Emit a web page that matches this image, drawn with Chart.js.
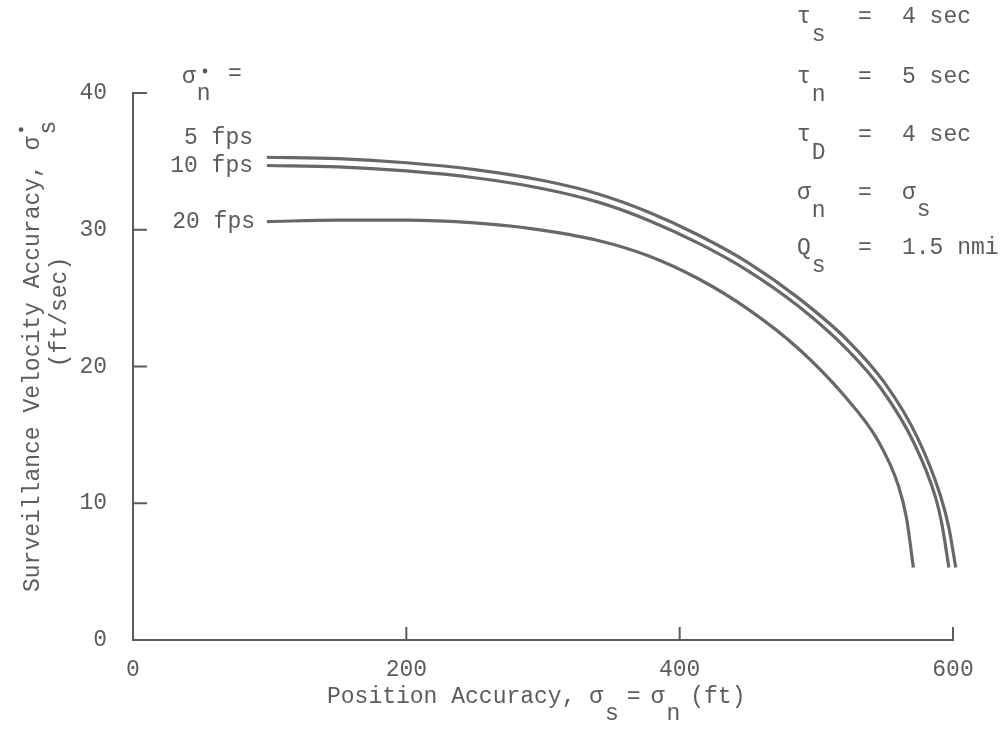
<!DOCTYPE html>
<html lang="en">
<head>
    <meta charset="UTF-8">
    <title>Surveillance Velocity Accuracy</title>
    <style>
      body { margin: 0; background: #fff; }
    </style>
</head>
<body>
    <canvas id="grafico1" width="1008" height="730"></canvas>
    <script src="https://cdn.jsdelivr.net/npm/chart.js"></script>
    <script>
      // position accuracy (ft) vs velocity accuracy (ft/sec), one curve per sigma-dot-n
      const pos5 = [98, 150, 200, 250, 300, 341, 377, 414, 450, 487, 523, 550, 574, 591, 597, 602];
      const vel5 = [35.3, 35.2, 34.9, 34.4, 33.6, 32.6, 31.3, 29.6, 27.6, 25.0, 21.9, 18.8, 14.8, 10.5, 8.2, 5.3];

      const pos10 = [98, 150, 200, 250, 300, 341, 377, 414, 450, 487, 523, 548, 571, 587, 592, 597];
      const vel10 = [34.7, 34.6, 34.3, 33.8, 33.0, 32.0, 30.7, 29.0, 27.0, 24.4, 21.2, 18.3, 14.5, 10.5, 8.4, 5.3];

      const pos20 = [98, 150, 200, 250, 290, 341, 377, 414, 450, 487, 521, 545, 560, 566, 571];
      const vel20 = [30.6, 30.7, 30.7, 30.5, 30.1, 29.2, 28.1, 26.4, 24.2, 21.3, 17.8, 14.6, 11.3, 8.9, 5.3];

      const curveLabels = ['5 fps', '10 fps', '20 fps'];
      const xTicks = [0, 200, 400, 600];
      const yTicks = [0, 10, 20, 30, 40];

      const ink = '#5c5c59';
      const lineInk = '#686864';
      const fonte = '23px "Liberation Mono", "DejaVu Sans Mono", monospace';

      const pares = (xs, ys) => xs.map((x, i) => ({x: x, y: ys[i]}));

      const serie = (label, xs, ys) => ({
        label: label,
        data: pares(xs, ys),
        borderColor: lineInk,
        borderWidth: 3.2,
        pointRadius: 0,
        fill: false,
        clip: false,
        cubicInterpolationMode: 'monotone'
      });

      // draws "main" with a typewriter-style subscript dropped below it
      const comSub = (ctx, main, sub, x, y, dy) => {
        ctx.fillText(main, x, y);
        const w = ctx.measureText(main).width;
        ctx.fillText(sub, x + w + 1, y + (dy || 17));
      };

      const anotacoes = {
        id: 'anotacoes',
        beforeDraw(chart) {
          const ctx = chart.ctx;
          ctx.save();
          ctx.fillStyle = '#fff';
          ctx.fillRect(0, 0, chart.width, chart.height);
          ctx.restore();
        },
        afterDraw(chart) {
          const ctx = chart.ctx;
          const sx = chart.scales.x, sy = chart.scales.y;
          const x0 = sx.getPixelForValue(0), y0 = sy.getPixelForValue(0);
          ctx.save();

          // inward tick marks
          ctx.strokeStyle = ink;
          ctx.lineWidth = 2;
          ctx.beginPath();
          yTicks.slice(1).forEach(v => {
            const py = sy.getPixelForValue(v);
            ctx.moveTo(x0, py);
            ctx.lineTo(x0 + 14, py);
          });
          xTicks.slice(1).forEach(v => {
            const px = sx.getPixelForValue(v);
            ctx.moveTo(px, y0);
            ctx.lineTo(px, y0 - 13);
          });
          ctx.stroke();

          ctx.fillStyle = ink;
          ctx.font = fonte;
          ctx.textBaseline = 'middle';

          // curve labels
          ctx.textAlign = 'right';
          ctx.fillText(curveLabels[0], 253, 138);
          ctx.fillText(curveLabels[1], 253, 166);
          ctx.fillText(curveLabels[2], 255, 222);

          ctx.textAlign = 'left';
          // sigma-dot-n =
          comSub(ctx, 'σ', 'n', 182, 77, 17);
          ctx.beginPath();
          ctx.arc(205, 71, 2.4, 0, Math.PI * 2);
          ctx.fill();
          ctx.fillText('=', 228, 74);

          // parameter block, top right
          const linhas = [
            ['τ', 's', '4 sec', 17],
            ['τ', 'n', '5 sec', 77],
            ['τ', 'D', '4 sec', 135],
            ['σ', 'n', null, 193],
            ['Q', 's', '1.5 nmi', 248]
          ];
          linhas.forEach(l => {
            comSub(ctx, l[0], l[1], 797, l[3], 18);
            ctx.fillText('=', 858, l[3]);
            if (l[2]) ctx.fillText(l[2], 902, l[3]);
            else comSub(ctx, 'σ', 's', 902, l[3], 17);
          });

          // x axis title
          let px = 327;
          const cw = ctx.measureText('M').width;
          ctx.fillText('Position Accuracy, σ', px, 697);
          px += ctx.measureText('Position Accuracy, σ').width;
          ctx.fillText('s', px + 2, 714);
          px += cw + 10;
          ctx.fillText('=', px, 697);
          px += cw + 10;
          ctx.fillText('σ', px, 697);
          px += cw;
          ctx.fillText('n', px + 2, 714);
          px += cw + 12;
          ctx.fillText('(ft)', px, 697);

          // y axis title, two rotated lines
          ctx.save();
          ctx.translate(33, 592);
          ctx.rotate(-Math.PI / 2);
          const t1 = 'Surveillance Velocity Accuracy, σ';
          ctx.fillText(t1, 0, 0);
          const w1 = ctx.measureText(t1).width;
          ctx.fillText('s', w1 + 2, 16);
          ctx.beginPath();
          ctx.arc(w1 + 7, -12, 2.4, 0, Math.PI * 2);
          ctx.fill();
          ctx.restore();

          ctx.save();
          ctx.translate(60, 312);
          ctx.rotate(-Math.PI / 2);
          ctx.textAlign = 'center';
          ctx.fillText('(ft/sec)', 0, 0);
          ctx.restore();

          ctx.restore();
        }
      };

      const ctx = document.getElementById('grafico1');

      let grafico1 = new Chart(ctx, {
        type: 'line',
        data: {
          datasets: [
            serie(curveLabels[0], pos5, vel5),
            serie(curveLabels[1], pos10, vel10),
            serie(curveLabels[2], pos20, vel20)
          ]
        },
        options: {
          responsive: false,
          animation: false,
          layout: { padding: { top: 93, right: 55, left: 0, bottom: 0 } },
          plugins: {
            legend: { display: false },
            tooltip: { enabled: false }
          },
          scales: {
            x: {
              type: 'linear',
              min: 0,
              max: 600,
              afterFit: s => { s.height = 90; },
              afterBuildTicks: s => { s.ticks = xTicks.map(v => ({value: v})); },
              grid: { display: false },
              border: { display: true, color: ink, width: 2 },
              ticks: { color: ink, font: { family: '"Liberation Mono", monospace', size: 23 }, padding: 8, maxRotation: 0 }
            },
            y: {
              min: 0,
              max: 40,
              afterFit: s => { s.width = 133; },
              afterBuildTicks: s => { s.ticks = yTicks.map(v => ({value: v})); },
              grid: { display: false },
              border: { display: true, color: ink, width: 2 },
              ticks: { color: ink, font: { family: '"Liberation Mono", monospace', size: 23 }, padding: 18 }
            }
          }
        },
        plugins: [anotacoes]
      });
    </script>
</body>
</html>
